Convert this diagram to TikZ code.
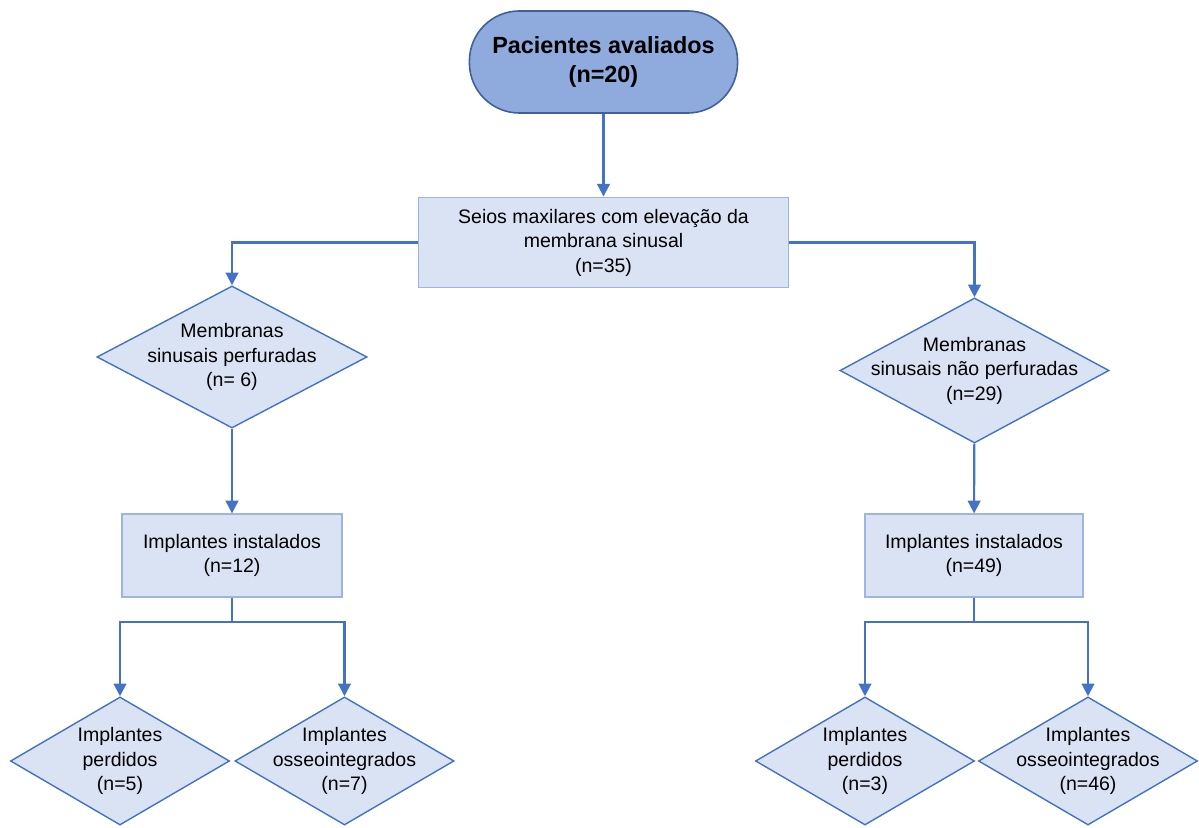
\documentclass[tikz,border=0pt]{standalone}
\usepackage{fontspec}
\setmainfont{Liberation Sans}
\usetikzlibrary{shapes.geometric, arrows.meta, positioning}

\definecolor{termfill}{HTML}{8FAADC}
\definecolor{termline}{HTML}{41609A}
\definecolor{boxfill}{HTML}{DAE3F3}
\definecolor{boxline}{HTML}{9DB5E0}
\definecolor{flowline}{HTML}{4472C4}

\begin{document}
\begin{tikzpicture}[x=0.01cm, y=-0.01cm,
    every node/.style={font=\fontsize{5.55}{6.97}\selectfont, align=center, text=black},
    terminal/.style={draw=termline, fill=termfill, line width=0.45pt, rounded corners=0.5cm,
        minimum width=2.68cm, minimum height=1.02cm, font=\fontsize{6.65}{8.3}\selectfont\bfseries},
    process/.style={draw=boxline, fill=boxfill, line width=0.35pt, minimum width=#1, minimum height=0.83cm},
    process/.default=2.2cm,
    decision/.style args={#1 and #2}{diamond, draw=flowline, fill=boxfill, line width=0.4pt,
        inner sep=0pt, minimum width=#1, minimum height=#2},
    flow/.style={draw=flowline, line width=0.6pt, -{Triangle[width=3.6pt, length=3.6pt]}}]
    \useasboundingbox (0,0) rectangle (1199,828);

    \node[terminal] (patients) at (603.5,62) {Pacientes avaliados\\(n=20)};
    \node[process=3.7cm] (sinus) at (603.5,242.5) {Seios maxilares com eleva\c{c}\~ao da\\membrana sinusal\\(n=35)};

    \node[decision=2.7cm and 1.42cm, label={center:Membranas\\sinusais perfuradas\\(n= 6)}] (perf) at (232,357) {};
    \node[decision=2.69cm and 1.45cm, label={center:Membranas\\sinusais n\~ao perfuradas\\(n=29)}] (intact) at (974.5,370.5) {};

    \node[process] (implA) at (232,555.5) {Implantes instalados\\(n=12)};
    \node[process=2.18cm] (implB) at (974,555.5) {Implantes instalados\\(n=49)};

    \node[decision=2.19cm and 1.28cm, label={center:Implantes\\perdidos\\(n=5)}] (lostA) at (120,761) {};
    \node[decision=2.19cm and 1.28cm, label={center:Implantes\\osseointegrados\\(n=7)}] (osseoA) at (344.5,761) {};
    \node[decision=2.19cm and 1.28cm, label={center:Implantes\\perdidos\\(n=3)}] (lostB) at (865,761) {};
    \node[decision=2.19cm and 1.28cm, label={center:Implantes\\osseointegrados\\(n=46)}] (osseoB) at (1088,761) {};

    \coordinate (splitA) at (232,622);
    \coordinate (splitB) at (974,622);

    % Connectors
    \draw[flow] (patients) -- (sinus);
    \draw[flow] (sinus.west) -| (perf.north);
    \draw[flow] (sinus.east) -| (intact.north);
    \draw[flow] (perf) -- (implA);
    \draw[flow] (intact) -- (implB);

    \draw[flow] (implA.south) -- (splitA) -| (lostA.north);
    \draw[flow] (implA.south) -- (splitA) -| (osseoA.north);
    \draw[flow] (implB.south) -- (splitB) -| (lostB.north);
    \draw[flow] (implB.south) -- (splitB) -| (osseoB.north);
\end{tikzpicture}
\end{document}
